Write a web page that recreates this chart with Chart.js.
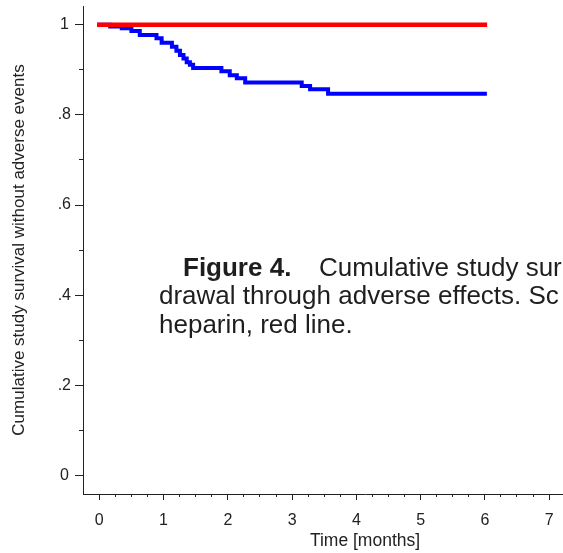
<!DOCTYPE html>
<html><head><meta charset="utf-8">
<script src="https://cdn.jsdelivr.net/npm/chart.js@4.4.1/dist/chart.umd.min.js"></script>
<style>
html,body{margin:0;padding:0;background:#fff;overflow:hidden;width:563px;height:553px}
#wrap{position:relative;width:647px;height:553px}
</style></head>
<body><div id="wrap"><canvas id="c" width="647" height="553"></canvas></div>
<script>
// Study drug (blue) Kaplan-Meier step values
const monthsStudy = [0, 0.17, 0.35, 0.50, 0.63, 0.89, 0.97, 1.13, 1.20, 1.255, 1.31, 1.36, 1.41, 1.46, 1.90, 2.03, 2.14, 2.27, 3.15, 3.28, 3.56, 6.0];
const survivalStudy = [1.0, 0.996, 0.992, 0.986, 0.977, 0.970, 0.960, 0.951, 0.942, 0.933, 0.925, 0.917, 0.911, 0.904, 0.897, 0.888, 0.881, 0.872, 0.864, 0.857, 0.847, 0.847];
// Heparin (red)
const monthsHeparin = [0, 6];
const survivalHeparin = [1, 1];

const xMajorTicks = [0, 1, 2, 3, 4, 5, 6, 7];
const xMinorTicks = [0.25, 0.5, 0.75, 1.25, 1.5, 1.75, 2.25, 2.5, 2.75, 3.25, 3.5, 3.75, 4.25, 4.5, 4.75, 5.25, 5.5, 5.75, 6.25, 6.5, 6.75];
const yMajorTicks = [0, 0.2, 0.4, 0.6, 0.8, 1];
const yTickLabels = ['0', '.2', '.4', '.6', '.8', '1'];
const yMinorTicks = [0.1, 0.3, 0.5, 0.7, 0.9];

const X_MIN = -0.2537, X_MAX = 8.523;
const Y_MIN = -0.041, Y_MAX = 1.0415;
const FONT = '"Liberation Sans", Arial, Helvetica, sans-serif';
const INK = '#222';

const studyPts = monthsStudy.map((t, i) => ({x: t, y: survivalStudy[i]}));
const heparinPts = monthsHeparin.map((t, i) => ({x: t, y: survivalHeparin[i]}));

const captionPlugin = {
  id: 'caption',
  afterDraw(chart) {
    const ctx = chart.ctx;
    ctx.save();
    ctx.fillStyle = '#1e1e1e';
    ctx.textBaseline = 'alphabetic';
    ctx.textAlign = 'left';
    ctx.font = 'bold 26px ' + FONT;
    ctx.fillText('Figure 4.', 183, 276);
    ctx.font = '26px ' + FONT;
    ctx.fillText('Cumulative study sur', 319, 276);
    ctx.fillText('drawal through adverse effects. Sc', 159, 304);
    ctx.fillText('heparin, red line.', 159, 333);
    ctx.restore();
  }
};

function noPadX(s) { s.paddingLeft = 0; s.paddingRight = 0; }
function noPadY(s) { s.paddingTop = 0; s.paddingBottom = 0; }

new Chart(document.getElementById('c').getContext('2d'), {
  type: 'line',
  data: {
    datasets: [
      {label: 'Heparin', data: heparinPts, borderColor: '#ff0000', borderWidth: 4.5, pointRadius: 0,
       stepped: true, borderCapStyle: 'square', fill: false, xAxisID: 'x', yAxisID: 'y'},
      {label: 'Study', data: studyPts, borderColor: '#0000ff', borderWidth: 4, pointRadius: 0,
       stepped: true, borderCapStyle: 'square', borderJoinStyle: 'miter', fill: false, xAxisID: 'x', yAxisID: 'y'}
    ]
  },
  options: {
    responsive: false, animation: false, devicePixelRatio: 1,
    layout: {padding: {top: 6, left: 0, right: 0, bottom: 0}},
    plugins: {legend: {display: false}, tooltip: {enabled: false}},
    scales: {
      x: {
        type: 'linear', position: 'bottom', weight: 1, min: X_MIN, max: X_MAX,
        afterBuildTicks: s => { s.ticks = xMajorTicks.map(v => ({value: v})); },
        afterFit: s => { s.height = 59; noPadX(s); },
        ticks: {callback: (v, i) => String(xMajorTicks[i]), font: {size: 16, family: FONT}, color: INK,
                padding: 11, maxRotation: 0, autoSkip: false},
        grid: {display: true, drawOnChartArea: false, drawTicks: true, tickLength: 6, color: INK, lineWidth: 1},
        border: {display: true, color: INK, width: 1},
        title: {display: true, text: 'Time [months]', font: {size: 17.5, family: FONT}, color: INK, padding: {top: 1, bottom: 1}}
      },
      x2: {
        type: 'linear', position: 'bottom', weight: 0, min: X_MIN, max: X_MAX,
        afterBuildTicks: s => { s.ticks = xMinorTicks.map(v => ({value: v})); },
        afterFit: s => { s.height = 0; noPadX(s); },
        ticks: {display: false},
        grid: {display: true, drawOnChartArea: false, drawTicks: true, tickLength: 3, color: INK, lineWidth: 1},
        border: {display: false}
      },
      y: {
        type: 'linear', position: 'left', weight: 1, min: Y_MIN, max: Y_MAX,
        afterBuildTicks: s => { s.ticks = yMajorTicks.map(v => ({value: v})); },
        afterFit: s => { s.width = 83; noPadY(s); },
        ticks: {callback: (v, i) => yTickLabels[i], font: {size: 16, family: FONT}, color: INK,
                padding: 4, crossAlign: 'center', autoSkip: false},
        grid: {display: true, drawOnChartArea: false, drawTicks: true, tickLength: 8, color: INK, lineWidth: 1},
        border: {display: true, color: INK, width: 1},
        title: {display: true, text: 'Cumulative study survival without adverse events', font: {size: 17, family: FONT},
                color: INK, padding: {top: 9, bottom: 9}}
      },
      y2: {
        type: 'linear', position: 'left', weight: 0, min: Y_MIN, max: Y_MAX,
        afterBuildTicks: s => { s.ticks = yMinorTicks.map(v => ({value: v})); },
        afterFit: s => { s.width = 0; noPadY(s); },
        ticks: {display: false},
        grid: {display: true, drawOnChartArea: false, drawTicks: true, tickLength: 4, color: INK, lineWidth: 1},
        border: {display: false}
      }
    }
  },
  plugins: [captionPlugin]
});
</script>
</body></html>
